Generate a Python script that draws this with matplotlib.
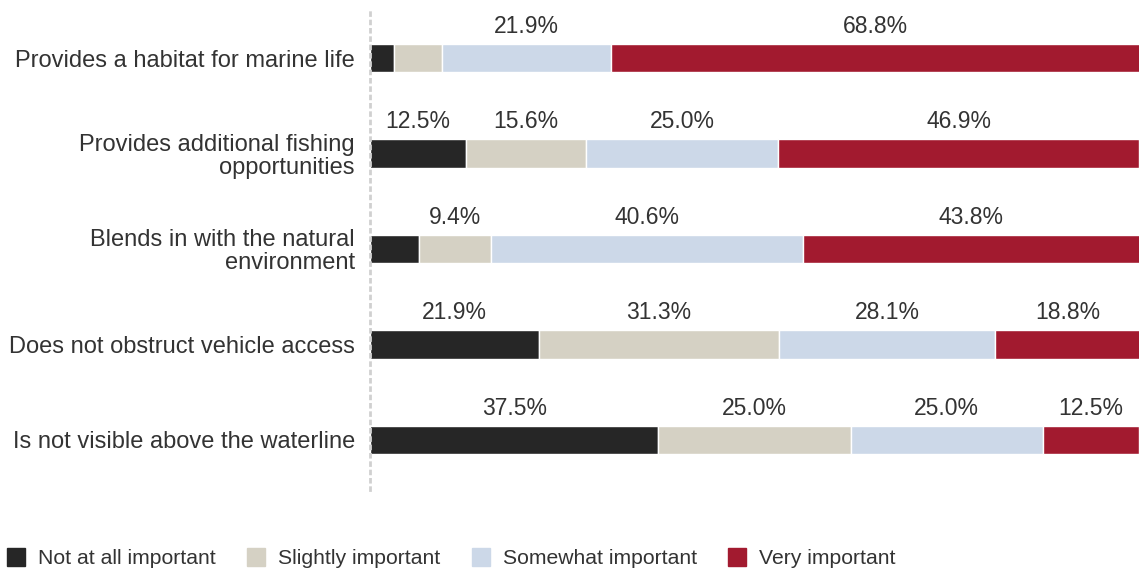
import numpy as np
import matplotlib.pyplot as plt
from matplotlib.lines import Line2D

plt.rcParams['font.family'] = ['Liberation Sans', 'DejaVu Sans']

statements = ['Provides a habitat for marine life',
              'Provides additional fishing\nopportunities',
              'Blends in with the natural\nenvironment',
              'Does not obstruct vehicle access',
              'Is not visible above the waterline']
levels = ['Not at all important', 'Slightly important', 'Somewhat important', 'Very important']
not_at_all = [3.1, 12.5, 6.3, 21.9, 37.5]
slightly = [6.3, 15.6, 9.4, 31.3, 25.0]
somewhat = [21.9, 25.0, 40.6, 28.1, 25.0]
very = [68.8, 46.9, 43.8, 18.8, 12.5]
colors = ['#262626', '#d5d1c4', '#ccd8e8', '#a21a2f']

series = [not_at_all, slightly, somewhat, very]
y = np.arange(len(statements))

fig = plt.figure(figsize=(11.39, 5.71), dpi=100)
ax = fig.add_axes([0.325, 0.142, 0.675, 0.844])

left = np.zeros(len(statements))
for vals, col in zip(series, colors):
    vals = np.array(vals)
    ax.barh(y, vals, left=left, height=0.3, color=col, edgecolor='white', linewidth=1)
    for yi, l, v in zip(y, left, vals):
        if v >= 9:
            ax.text(l + v / 2, yi - 0.33, f'{v:.1f}%', ha='center', va='center',
                    fontsize=16.5, color='#333333')
    left += vals

ax.set_xlim(0, 100)
ax.set_ylim(4.524, -0.524)
ax.set_yticks(y)
ax.set_yticklabels(statements, fontsize=17, color='#333333', ha='right',
                   linespacing=1.05)
ax.tick_params(axis='y', length=0, pad=11)
ax.set_xticks([])
for s in ['top', 'right', 'bottom']:
    ax.spines[s].set_visible(False)
ax.spines['left'].set_linestyle((0, (1, 2)))
ax.spines['left'].set_color('#d0d0d0')
ax.spines['left'].set_linewidth(2)

handles = [Line2D([], [], marker='s', linestyle='none', markersize=13,
                  markerfacecolor=c, markeredgecolor=c) for c in colors]
fig.legend(handles, levels, loc='center left', bbox_to_anchor=(0.003, 0.022),
           ncol=4, frameon=False, fontsize=15.2, handletextpad=0.45,
           handlelength=1.2, columnspacing=1.3, borderpad=0, borderaxespad=0,
           labelcolor='#333333')

fig.savefig('out.png', dpi=100)
